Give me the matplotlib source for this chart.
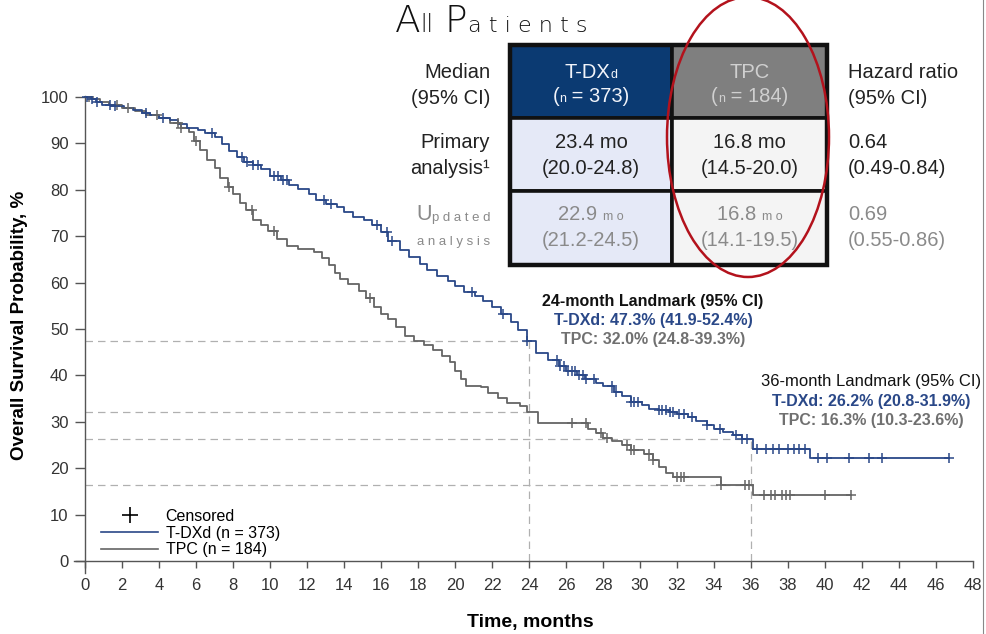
import numpy as np
import matplotlib
matplotlib.use("Agg")
import matplotlib.pyplot as plt
from matplotlib.lines import Line2D
from matplotlib.patches import Rectangle, Ellipse
from matplotlib.offsetbox import TextArea, HPacker, AnnotationBbox

plt.rcParams['font.family'] = ['Liberation Sans', 'DejaVu Sans']

# Kaplan-Meier step data (months, % surviving), read as step-post vertices
tdxd_t = [0, 0.3, 0.6, 0.9, 1.4, 2.1, 2.6, 3.1, 3.5, 4.0, 4.6, 5.0, 5.5, 6.1, 6.5, 7.0,
          7.4, 7.8, 8.2, 8.6, 9.1, 9.5, 10.0, 10.6, 11.0, 11.5, 12.1, 12.5, 13.0, 13.6,
          14.0, 14.5, 15.1, 15.5, 16.0, 16.4, 17.0, 17.5, 18.1, 18.5, 19.0, 19.6, 20.0,
          20.5, 21.1, 21.5, 22.0, 22.5, 23.0, 23.4, 23.9, 24.4, 25.0, 25.6, 26.0, 26.6,
          27.0, 27.6, 28.0, 28.6, 29.0, 29.5, 30.1, 30.5, 31.0, 31.6, 32.0, 32.6, 33.0,
          33.6, 34.0, 34.5, 35.0, 35.5, 36.1, 39.2]
tdxd_s = [100, 99.5, 98.8, 98.3, 98.0, 97.6, 97.2, 96.5, 96.0, 95.4, 95.0, 94.2, 93.4,
          92.8, 92.3, 91.4, 89.8, 88.3, 87.0, 86.0, 85.3, 84.5, 83.0, 82.0, 81.0, 80.2,
          79.0, 77.8, 77.0, 76.2, 75.2, 74.2, 73.4, 72.3, 70.8, 69.0, 67.0, 65.5, 64.0,
          62.8, 61.5, 60.3, 59.2, 58.0, 57.0, 56.0, 54.8, 53.3, 51.5, 49.8, 47.3, 44.8,
          43.2, 42.0, 41.0, 40.0, 39.2, 38.3, 37.6, 36.4, 35.5, 34.3, 33.5, 32.8, 32.5,
          32.0, 31.6, 31.0, 30.2, 29.2, 28.5, 27.8, 27.2, 26.2, 24.2, 22.1]
tdxd_end = 46.7
tdxd_cens = [0.1, 0.36, 0.63, 1.35, 1.62, 3.3, 4.2, 6.85, 8.47, 8.74, 9.1, 9.37, 10.2,
             10.45, 10.72, 10.9, 12.9, 13.3, 15.8, 16.3, 16.6, 20.9, 22.6, 23.9, 25.5,
             25.7, 25.9, 26.1, 26.3, 26.5, 26.7, 26.9, 27.1, 27.5, 28.5, 28.7, 29.5,
             29.7, 29.9, 31.0, 31.2, 31.4, 31.6, 31.8, 32.1, 32.4, 32.8, 33.6, 34.3,
             35.2, 35.5, 35.8, 36.3, 36.8, 37.2, 37.5, 38.0, 38.3, 38.6, 38.9, 39.6,
             40.1, 41.3, 42.4, 43.1, 46.7]

tpc_t = [0, 0.4, 0.8, 1.3, 2.0, 2.7, 3.3, 4.0, 4.6, 5.2, 5.6, 5.9, 6.2, 6.6, 7.0, 7.3,
         7.7, 8.0, 8.4, 8.7, 9.1, 9.5, 9.9, 10.4, 10.9, 11.5, 12.4, 12.8, 13.2, 13.5,
         13.8, 14.2, 14.8, 15.2, 15.6, 16.0, 16.4, 16.8, 17.3, 17.8, 18.3, 18.8, 19.3,
         19.7, 20.0, 20.3, 20.6, 21.4, 21.8, 22.3, 22.8, 23.5, 23.9, 24.5, 27.2, 27.6,
         28.0, 28.5, 29.0, 29.5, 30.2, 30.7, 31.0, 31.4, 31.8, 34.4, 36.1]
tpc_s = [100, 99.5, 98.8, 98.2, 97.7, 97.0, 96.2, 95.4, 94.4, 93.2, 92.5, 90.5, 88.6,
         86.4, 84.6, 82.5, 80.6, 79.0, 77.2, 75.6, 73.5, 72.4, 71.2, 69.4, 67.8, 67.2,
         66.6, 65.3, 63.8, 62.0, 60.8, 59.6, 58.2, 56.7, 54.8, 53.3, 52.2, 50.4, 48.5,
         47.3, 46.5, 45.5, 44.2, 42.8, 40.9, 39.2, 37.8, 37.4, 36.3, 35.1, 34.1, 33.4,
         32.0, 29.7, 28.4, 27.6, 26.6, 25.8, 24.9, 24.0, 23.1, 21.8, 20.3, 19.0, 18.1,
         16.3, 14.3]
tpc_end = 41.4
tpc_cens = [0.2, 1.7, 2.3, 3.9, 5.0, 5.2, 6.0, 7.8, 9.0, 10.2, 15.4, 26.3, 27.1, 27.9,
            28.2, 29.3, 29.5, 29.7, 30.5, 30.7, 32.0, 32.2, 32.4, 34.4, 35.7, 35.9,
            36.7, 37.1, 37.3, 37.7, 37.9, 38.1, 40.0, 41.4]

# landmark survival estimates
landmark_months = [24, 36]
landmark_tdxd = [47.3, 26.2]
landmark_tpc = [32.0, 16.3]
landmark_tdxd_ci = ["41.9-52.4%", "20.8-31.9%"]
landmark_tpc_ci = ["24.8-39.3%", "10.3-23.6%"]

# summary table
row_labels = [("Median", "(95% CI)"), ("Primary", "analysis\u00b9")]
tdxd_median = [("23.4 mo", "(20.0-24.8)"), ("22.9", "(21.2-24.5)")]
tpc_median = [("16.8 mo", "(14.5-20.0)"), ("16.8", "(14.1-19.5)")]
hazard_ratio = [("Hazard ratio", "(95% CI)"), ("0.64", "(0.49-0.84)"), ("0.69", "(0.55-0.86)")]

BLUE = "#2a4888"
GRAY = "#656565"
DASH = "#b0b0b0"

fig = plt.figure(figsize=(9.86, 6.34), dpi=100)
W, H = 986, 634
ax = fig.add_axes([74 / W, 61 / H, 899 / W, 477 / H])
ax.set_xlim(-0.6, 48)
ax.set_ylim(-2.6, 100.2)


def km(ax, t, s, end, cens, color):
    tt = list(t) + [end]
    ss = list(s) + [s[-1]]
    ax.step(tt, ss, where='post', color=color, lw=1.3, zorder=3)
    idx = np.searchsorted(np.array(t), np.array(cens), side='right') - 1
    ax.plot(cens, np.array(s)[idx], ls='none', marker='+', ms=7, mew=1.1,
            color=color, zorder=4)


# reference lines at the landmarks
for m, a, b in zip(landmark_months, landmark_tdxd, landmark_tpc):
    for v in (a, b):
        ax.plot([0, m], [v, v], ls=(0, (6, 4)), color=DASH, lw=0.9, zorder=1)
    ax.plot([m, m], [0, a], ls=(0, (6, 4)), color=DASH, lw=0.9, zorder=1)

km(ax, tpc_t, tpc_s, tpc_end, tpc_cens, GRAY)
km(ax, tdxd_t, tdxd_s, tdxd_end, tdxd_cens, BLUE)

for side in ('top', 'right'):
    ax.spines[side].set_visible(False)
ax.spines['left'].set_position(('data', 0))
ax.spines['bottom'].set_position(('data', 0))
for side in ('left', 'bottom'):
    ax.spines[side].set_color('#555555')
    ax.spines[side].set_linewidth(1.0)
ax.set_xticks(np.arange(0, 49, 2))
ax.set_yticks(np.arange(0, 101, 10))
ax.tick_params(axis='x', length=5, width=1, color='#555555', labelsize=12,
               labelcolor='#333333', pad=7)
ax.tick_params(axis='y', length=7, width=1, color='#555555', labelsize=12,
               labelcolor='#333333', pad=5)
ax.set_facecolor('none')

fig.text(20 / W, 1 - 325 / H, "Overall Survival Probability, %", rotation=90,
         ha='center', va='center', fontsize=13.5, fontweight='bold')
fig.text(530 / W, 1 - 622 / H, "Time, months", ha='center', va='center',
         fontsize=14, fontweight='bold')

# landmark annotations
ax.text(30.7, 55.0, "24-month Landmark (95% CI)", ha='center',
        fontsize=11.5, fontweight='bold', color='#111111')
ax.text(30.7, 50.8, f"T-DXd: {landmark_tdxd[0]}% ({landmark_tdxd_ci[0]})", ha='center',
        fontsize=11.5, fontweight='bold', color=BLUE)
ax.text(30.7, 46.7, f"TPC: {landmark_tpc[0]}% ({landmark_tpc_ci[0]})", ha='center',
        fontsize=11.5, fontweight='bold', color='#707070')
ax.text(42.5, 37.7, "36-month Landmark (95% CI)", ha='center', fontsize=12,
        color='#111111')
ax.text(42.5, 33.4, f"T-DXd: {landmark_tdxd[1]}% ({landmark_tdxd_ci[1]})", ha='center',
        fontsize=11.5, fontweight='bold', color=BLUE)
ax.text(42.5, 29.3, f"TPC: {landmark_tpc[1]}% ({landmark_tpc_ci[1]})", ha='center',
        fontsize=11.5, fontweight='bold', color='#707070')

handles = [Line2D([], [], ls='none', marker='+', ms=12, mew=1.2, color='black'),
           Line2D([], [], color=BLUE, lw=1.2),
           Line2D([], [], color=GRAY, lw=1.2)]
ax.legend(handles, ["Censored", "T-DXd (n = 373)", "TPC (n = 184)"], loc='lower left',
          bbox_to_anchor=(0.03, 0.033), frameon=False, fontsize=11.5, handlelength=3.6,
          handletextpad=0.45, labelspacing=0.1, borderpad=0, borderaxespad=0)

# overlay in pixel coordinates for the summary table
ov = fig.add_axes([0, 0, 1, 1])
ov.set_xlim(0, W)
ov.set_ylim(H, 0)
ov.axis('off')
ov.set_facecolor('none')


def seg_text(x, y, parts, color, align=(0.5, 0.5), weight='normal', family=None):
    boxes = []
    for txt, size in parts:
        props = dict(size=size, color=color, weight=weight)
        if family:
            props['family'] = family
        boxes.append(TextArea(txt, textprops=props))
    pack = HPacker(children=boxes, align='baseline', pad=0, sep=0)
    ab = AnnotationBbox(pack, (x, y), xycoords='data', frameon=False,
                        box_alignment=align, pad=0)
    ov.add_artist(ab)


# title
seg_text(491, 21, [("A", 27), ("ll", 17), (" P", 27), ("a t i e n t s", 16)],
         '#111111', family=['DejaVu Sans'], weight='light')

x0, xm, x1 = 510, 672, 827
ys = [45, 118, 191, 265]
fills = [("#0b3a72", "#7f7f7f"), ("#e5e9f7", "#f4f4f4"), ("#e5e9f7", "#f4f4f4")]
for r in range(3):
    ov.add_patch(Rectangle((x0, ys[r]), xm - x0, ys[r + 1] - ys[r], facecolor=fills[r][0],
                           edgecolor='#111111', lw=2.6, zorder=2))
    ov.add_patch(Rectangle((xm, ys[r]), x1 - xm, ys[r + 1] - ys[r], facecolor=fills[r][1],
                           edgecolor='#111111', lw=2.6, zorder=2))
ov.add_patch(Rectangle((x0, ys[0]), x1 - x0, ys[3] - ys[0], facecolor='none',
                       edgecolor='#111111', lw=3.2, zorder=3))

FS = 14.5
cx1, cx2 = (x0 + xm) / 2, (xm + x1) / 2
line_y = [(73, 98), (143, 168), (215, 241)]

# header
seg_text(cx1, 73, [("T-DX", FS), ("d", 9)], '#f2f4fa')
seg_text(cx1, 97, [("(", FS), ("n", 9), (" = 373)", FS)], '#f2f4fa')
seg_text(cx2, 73, [("TPC", FS)], '#d0d0d0')
seg_text(cx2, 97, [("(", FS), ("n", 9), (" = 184)", FS)], '#d0d0d0')

for i, (a, b) in enumerate(row_labels):
    ov.text(490, line_y[i][0], a, ha='right', va='center', fontsize=FS, color='#222222')
    ov.text(490, line_y[i][1], b, ha='right', va='center', fontsize=FS, color='#222222')
seg_text(490, 215, [("U", FS + 1), ("p d a t e d", 9.5)], '#8a8a8a', align=(1, 0.5))
seg_text(490, 242, [("a n a l y s i s", 9.5)], '#8a8a8a', align=(1, 0.5))

# primary analysis
ov.text(cx1, 143, tdxd_median[0][0], ha='center', va='center', fontsize=FS, color='#222222')
ov.text(cx1, 168, tdxd_median[0][1], ha='center', va='center', fontsize=FS, color='#222222')
ov.text(cx2, 143, tpc_median[0][0], ha='center', va='center', fontsize=FS, color='#222222')
ov.text(cx2, 168, tpc_median[0][1], ha='center', va='center', fontsize=FS, color='#222222')

# updated analysis
seg_text(cx1, 215, [(tdxd_median[1][0] + " ", FS), ("m o", 9)], '#8a8a8a')
ov.text(cx1, 241, tdxd_median[1][1], ha='center', va='center', fontsize=FS, color='#8a8a8a')
seg_text(cx2, 215, [(tpc_median[1][0] + " ", FS), ("m o", 9)], '#8a8a8a')
ov.text(cx2, 241, tpc_median[1][1], ha='center', va='center', fontsize=FS, color='#8a8a8a')

hr_colors = ['#222222', '#222222', '#8a8a8a']
for i, (a, b) in enumerate(hazard_ratio):
    ov.text(848, line_y[i][0], a, ha='left', va='center', fontsize=FS, color=hr_colors[i])
    ov.text(848, line_y[i][1], b, ha='left', va='center', fontsize=FS, color=hr_colors[i])

ov.add_patch(Ellipse((748, 137), 162, 280, facecolor='none', edgecolor='#b3121c',
                     lw=1.8, zorder=5))
ov.plot([983, 983], [0, H], color='#888888', lw=0.8)

fig.savefig("out.png", dpi=100)
